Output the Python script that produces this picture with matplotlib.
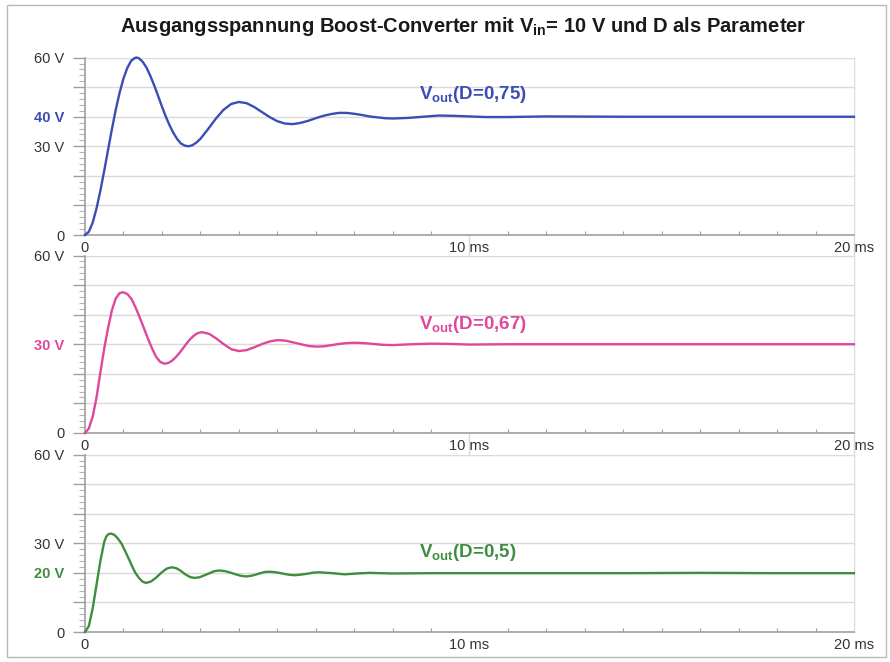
import matplotlib
matplotlib.use("Agg")
import matplotlib.pyplot as plt
from matplotlib.lines import Line2D
from matplotlib.patches import Rectangle
from matplotlib.ticker import MultipleLocator

plt.rcParams['font.family'] = ['Liberation Sans', 'DejaVu Sans']
plt.rcParams['mathtext.fontset'] = 'custom'
plt.rcParams['mathtext.rm'] = 'Liberation Sans:bold'
plt.rcParams['mathtext.it'] = 'Liberation Sans:bold'
plt.rcParams['mathtext.default'] = 'regular'

# --- data (time in ms, voltage in V) ---
t_075 = [0.0, 0.1, 0.2, 0.3, 0.4, 0.5, 0.6, 0.7, 0.8, 0.9, 1.0, 1.1, 1.2, 1.3, 1.35,
         1.4, 1.5, 1.6, 1.7, 1.8, 1.9, 2.0, 2.1, 2.2, 2.3, 2.4, 2.5, 2.6, 2.7, 2.8, 2.9, 3.0,
         3.2, 3.4, 3.6, 3.8, 4.0, 4.2, 4.4, 4.6, 4.8, 5.0, 5.2, 5.4, 5.6, 5.8, 6.0,
         6.2, 6.4, 6.6, 6.8, 7.0, 7.2, 7.4, 7.6, 7.8, 8.0,
         8.4, 8.8, 9.2, 9.6, 10.0, 10.4, 11, 12, 14, 16, 18, 20]
v_075 = [0, 1.1, 4.2, 9.0, 15.0, 21.7, 28.8, 35.8, 42.4, 48.1, 52.9, 56.5, 58.9, 59.9, 60.0,
         59.8, 58.6, 56.6, 53.8, 50.6, 47.1, 43.5, 40.1, 37.1, 34.5, 32.4, 30.9, 30.2, 30.0, 30.4, 31.3, 32.5,
         35.8, 39.3, 42.3, 44.3, 45.0, 44.6, 43.3, 41.6, 39.9, 38.5, 37.7, 37.5, 37.9, 38.6, 39.5,
         40.3, 40.9, 41.3, 41.3, 41.0, 40.6, 40.1, 39.8, 39.5, 39.4,
         39.6, 40.0, 40.4, 40.3, 40.1, 39.9, 39.9, 40.1, 40.0, 40.0, 40.0, 40.0]

t_067 = [0, 0.1, 0.2, 0.3, 0.4, 0.5, 0.6, 0.7, 0.8, 0.9, 0.99,
         1.1, 1.21, 1.31, 1.42, 1.53, 1.64, 1.75, 1.85, 1.96, 2.07,
         2.17, 2.26, 2.36, 2.46, 2.56, 2.65, 2.75, 2.85, 2.94, 3.04,
         3.23, 3.42, 3.62, 3.81, 4.0,
         4.2, 4.41, 4.61, 4.82, 5.02,
         5.22, 5.42, 5.62, 5.82, 6.02,
         6.22, 6.41, 6.61, 6.8, 7.0,
         7.25, 7.5, 7.75, 8.0, 8.5, 9.0, 9.5, 10.0, 11, 12, 14, 16, 18, 20]
v_067 = [0, 1.5, 5.5, 12.0, 20.5, 28.5, 35.5, 41.5, 45.5, 47.3, 47.6,
         47.0, 45.3, 42.6, 39.2, 35.5, 31.8, 28.4, 25.7, 24.0, 23.4,
         23.7, 24.4, 25.6, 27.1, 28.8, 30.4, 31.9, 33.1, 33.8, 34.1,
         33.5, 31.9, 29.9, 28.3, 27.7,
         28.0, 29.0, 30.1, 31.0, 31.4,
         31.2, 30.6, 30.0, 29.4, 29.2,
         29.3, 29.7, 30.1, 30.4, 30.5,
         30.4, 30.1, 29.8, 29.7, 30.0, 30.2, 30.1, 29.9, 30.0, 30.0, 30.0, 30.0, 30.0, 30.0]

t_05 = [0, 0.1, 0.2, 0.3, 0.4, 0.5, 0.55, 0.6, 0.67,
        0.76, 0.85, 0.95, 1.04, 1.13, 1.22, 1.31, 1.41, 1.5, 1.59,
        1.72, 1.85, 1.99, 2.12, 2.25,
        2.37, 2.49, 2.61, 2.73, 2.85,
        2.98, 3.11, 3.24, 3.37, 3.5,
        3.64, 3.78, 3.92, 4.06, 4.2,
        4.32, 4.44, 4.56, 4.68, 4.8,
        4.96, 5.13, 5.29, 5.45,
        5.61, 5.78, 5.94, 6.1,
        6.43, 6.75, 7.08, 7.4, 8, 9, 10, 12, 14, 16, 18, 20]
v_05 = [0, 2.0, 8.0, 16.0, 24.0, 30.5, 32.2, 33.0, 33.3,
        32.9, 31.7, 29.9, 27.5, 25.0, 22.4, 20.0, 18.2, 17.0, 16.6,
        17.1, 18.4, 20.1, 21.4, 21.9,
        21.6, 20.7, 19.5, 18.6, 18.3,
        18.5, 19.2, 19.9, 20.6, 20.8,
        20.6, 20.1, 19.5, 19.0, 18.8,
        19.0, 19.4, 19.9, 20.3, 20.4,
        20.2, 19.8, 19.4, 19.2,
        19.4, 19.7, 20.1, 20.2,
        19.9, 19.5, 19.8, 20.0, 19.8, 19.9, 19.9, 19.9, 19.9, 20.0, 19.9, 19.9]

curve_labels = ['V$_{out}$(D=0,75)', 'V$_{out}$(D=0,67)', 'V$_{out}$(D=0,5)']
y_ticks = [0, 10, 20, 30, 40, 50, 60]
y_ticklabels = [
    ['0', '', '', '30 V', '40 V', '', '60 V'],
    ['0', '', '', '30 V', '', '', '60 V'],
    ['0', '', '20 V', '30 V', '', '', '60 V'],
]
highlight = [4, 3, 2]  # index of the steady-state tick label
x_ticks = [0, 10, 20]
x_ticklabels = ['0', '10 ms', '20 ms']
title = 'Ausgangsspannung Boost-Converter mit V$_{in}$= 10 V und D als Parameter'

# --- styling ---
colors = ['#3a4db4', '#e0479c', '#3e8e3e']
label_pos = [(8.7, 47.5), (8.7, 36.8), (8.7, 27.0)]
left, width, height = 0.0955, 0.864, 0.268
bottoms = [0.645, 0.346, 0.0453]
grid_col = '#dadada'
axis_col = '#a0a0a0'
text_col = '#333333'

fig = plt.figure(figsize=(8.9, 6.62), dpi=100)

series = [(t_075, v_075), (t_067, v_067), (t_05, v_05)]
for i, (t, v) in enumerate(series):
    ax = fig.add_axes([left, bottoms[i], width, height])
    ax.plot(t, v, color=colors[i], lw=1.7, clip_on=False, zorder=3)
    ax.set_xlim(0, 20)
    ax.set_ylim(0, 60)

    ax.set_yticks(y_ticks)
    ax.set_yticklabels(y_ticklabels[i])
    ax.yaxis.set_minor_locator(MultipleLocator(2))
    ax.set_xticks(x_ticks)
    ax.set_xticklabels(x_ticklabels)
    ax.xaxis.set_minor_locator(MultipleLocator(1))

    ax.tick_params(axis='y', which='major', length=9, width=1, color=axis_col,
                   labelsize=10.5, labelcolor=text_col, pad=6)
    ax.tick_params(axis='y', which='minor', length=4, width=0.8, color='#b4b4b4')
    ax.tick_params(axis='x', which='major', length=0, pad=4,
                   labelsize=10.5, labelcolor=text_col)
    ax.tick_params(axis='x', which='minor', direction='in', length=3,
                   width=0.8, color=axis_col)

    hl = ax.get_yticklabels()[highlight[i]]
    hl.set_color(colors[i])
    hl.set_fontweight('bold')

    ax.yaxis.grid(True, color=grid_col, lw=1)
    ax.set_axisbelow(True)
    for s in ['top', 'right']:
        ax.spines[s].set_visible(False)
    for s in ['left', 'bottom']:
        ax.spines[s].set_color(axis_col)
        ax.spines[s].set_linewidth(1.2)

    ax.text(label_pos[i][0], label_pos[i][1], curve_labels[i], color=colors[i],
            fontsize=13.5, fontweight='bold', va='center', ha='left')

# vertical grid lines at 10 ms and 20 ms run through all panels
y_lo = bottoms[-1]
y_hi = bottoms[0] + height
for frac in (0.5, 1.0):
    xf = left + width * frac
    fig.add_artist(Line2D([xf, xf], [y_lo, y_hi], transform=fig.transFigure,
                          color=grid_col, lw=1, zorder=0))

fig.text(0.521, 0.960, title, ha='center', va='center', fontsize=14.5,
         fontweight='bold', color='#1a1a1a')

fig.add_artist(Rectangle((0.0079, 0.0076), 0.9876, 0.9848, transform=fig.transFigure,
                         fill=False, ec='#b8b8b8', lw=1))

fig.savefig('out.png', dpi=100)
